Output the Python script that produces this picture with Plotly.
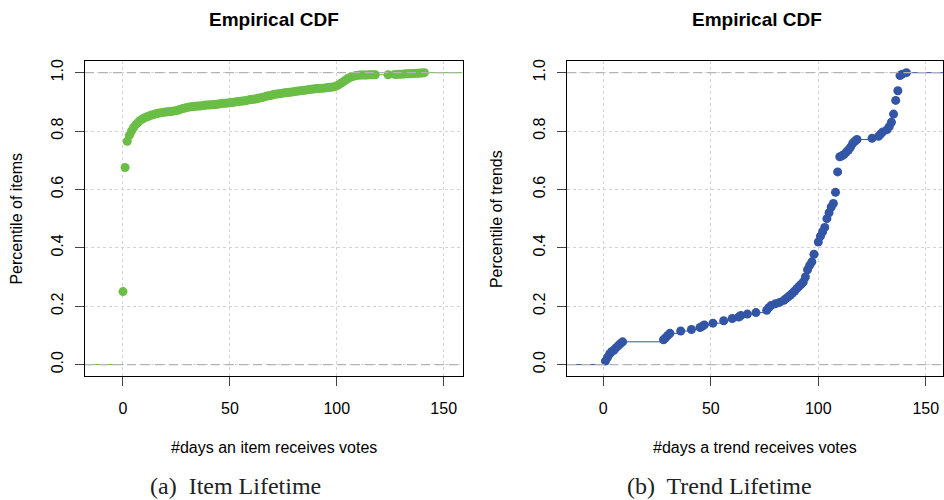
import plotly.graph_objects as go

# ---------------- data ----------------
item_days = list(range(0, 119)) + [124] + list(range(127, 142))
item_cdf = [
    0.250, 0.675, 0.765, 0.785, 0.800, 0.812, 0.822, 0.829, 0.836, 0.841,
    0.845, 0.848, 0.851, 0.854, 0.856, 0.858, 0.860, 0.862, 0.863, 0.864,
    0.865, 0.866, 0.867, 0.868, 0.869, 0.870, 0.872, 0.875, 0.877, 0.879,
    0.881, 0.882, 0.883, 0.884, 0.885, 0.886, 0.886, 0.887, 0.888, 0.889,
    0.889, 0.890, 0.890, 0.891, 0.892, 0.893, 0.894, 0.895, 0.895, 0.896,
    0.897, 0.898, 0.899, 0.900, 0.901, 0.902, 0.903, 0.904, 0.905, 0.907,
    0.908, 0.909, 0.910, 0.912, 0.913, 0.915, 0.917, 0.919, 0.921, 0.922,
    0.924, 0.926, 0.927, 0.928, 0.929, 0.930, 0.931, 0.932, 0.933, 0.934,
    0.935, 0.936, 0.937, 0.938, 0.939, 0.940, 0.941, 0.942, 0.943, 0.944,
    0.945, 0.946, 0.946, 0.947, 0.947, 0.948, 0.949, 0.950, 0.951, 0.952,
    0.955, 0.959, 0.964, 0.969, 0.974, 0.979, 0.983, 0.986, 0.988, 0.990,
    0.991, 0.992, 0.992, 0.992, 0.992, 0.993, 0.993, 0.993, 0.993,
    0.993,
    0.994, 0.994, 0.995, 0.995, 0.995, 0.996, 0.996, 0.996, 0.997, 0.997,
    0.998, 0.998, 0.999, 0.999, 1.000,
]

trend_days = [
    1, 2, 3, 4, 5, 6, 7, 8, 9, 28, 29, 30, 31, 36, 41, 45, 46, 47, 51, 56,
    60, 63, 64, 67, 71, 76, 77, 78, 80, 82, 84, 85, 86, 87, 88, 89, 90, 91,
    92, 93, 94, 95, 96, 97, 98, 100, 101, 102, 103, 104, 105, 106, 107, 108,
    109, 110, 111, 112, 113, 114, 115, 116, 117, 118, 125, 128, 129, 130,
    132, 133, 134, 135, 136, 137, 138, 139, 141,
]
trend_cdf = [
    0.012, 0.025, 0.037, 0.045, 0.050, 0.058, 0.065, 0.072, 0.078, 0.085,
    0.092, 0.100, 0.107, 0.115, 0.120, 0.127, 0.131, 0.136, 0.142, 0.150,
    0.158, 0.163, 0.168, 0.173, 0.178, 0.186, 0.195, 0.202, 0.208, 0.213,
    0.220, 0.226, 0.232, 0.238, 0.245, 0.252, 0.260, 0.268, 0.275, 0.283,
    0.300, 0.325, 0.340, 0.352, 0.378, 0.420, 0.440, 0.455, 0.470, 0.500,
    0.520, 0.540, 0.552, 0.590, 0.660, 0.712, 0.715, 0.720, 0.728, 0.735,
    0.745, 0.758, 0.765, 0.771, 0.775, 0.782, 0.790, 0.797, 0.805, 0.815,
    0.830, 0.858, 0.905, 0.938, 0.990, 0.995, 1.000,
]

x_ticks = [0, 50, 100, 150]
y_ticks = [0.0, 0.2, 0.4, 0.6, 0.8, 1.0]
titles = ["Empirical CDF", "Empirical CDF"]
x_titles = ["#days an item receives votes", "#days a trend receives votes"]
y_titles = ["Percentile of items", "Percentile of trends"]
captions = ["(a)\u00a0 Item Lifetime", "(b)\u00a0 Trend Lifetime"]

GREEN = "#6ABE46"
BLUE = "#3355A5"
FONT = "Liberation Sans, Arial, sans-serif"

W, H = 944, 500
XR1 = [-17.8, 158.8]
XR2 = [-16.7, 158.0]
YR = [-0.0408, 1.0408]
X1D = [85 / W, 463 / W]
X2D = [568 / W, 1.0]
YD = [1 - 376 / H, 1 - 59 / H]


def step_segments(xs, ys, xmin, xmax):
    sx, sy = [xmin, xs[0], None], [0, 0, None]
    for i in range(len(xs) - 1):
        sx += [xs[i], xs[i + 1], None]
        sy += [ys[i], ys[i], None]
    sx += [xs[-1], xmax, None]
    sy += [ys[-1], ys[-1], None]
    return sx, sy


fig = go.Figure()
for xs, ys, col, xr, ax in [
    (item_days, item_cdf, GREEN, XR1, ("x", "y")),
    (trend_days, trend_cdf, BLUE, XR2, ("x2", "y2")),
]:
    sx, sy = step_segments(xs, ys, xr[0], xr[1])
    fig.add_trace(go.Scatter(x=sx, y=sy, mode="lines", line=dict(color=col, width=1),
                             xaxis=ax[0], yaxis=ax[1], showlegend=False, hoverinfo="skip"))
    fig.add_trace(go.Scatter(x=xs, y=ys, mode="markers",
                             marker=dict(color=col, size=9, line=dict(width=0)),
                             xaxis=ax[0], yaxis=ax[1], showlegend=False))
    for yv in (0, 1):
        fig.add_shape(type="line", xref=ax[0], yref=ax[1], x0=xr[0], x1=xr[1], y0=yv, y1=yv,
                      line=dict(color="#b3b3b3", width=1.2, dash="9px,5px"), layer="above")

axis_common = dict(showline=True, linecolor="black", linewidth=1, mirror=True,
                   ticks="outside", ticklen=9, tickwidth=1, tickcolor="#444",
                   showgrid=True, gridcolor="#d3d3d3", griddash="dot", gridwidth=1,
                   zeroline=False, tickfont=dict(family=FONT, size=16, color="black"),
                   fixedrange=True)

fig.update_layout(
    width=W, height=H, autosize=False,
    margin=dict(l=0, r=0, t=0, b=0),
    paper_bgcolor="white", plot_bgcolor="white",
    xaxis=dict(domain=X1D, range=XR1, tickvals=x_ticks, anchor="y",
               ticklabelstandoff=8, **axis_common),
    yaxis=dict(domain=YD, range=YR, tickvals=y_ticks, tickformat=".1f", anchor="x",
               tickangle=-90, ticklabelstandoff=6, **axis_common),
    xaxis2=dict(domain=X2D, range=XR2, tickvals=x_ticks, anchor="y2",
                ticklabelstandoff=8, **axis_common),
    yaxis2=dict(domain=YD, range=YR, tickvals=y_ticks, tickformat=".1f", anchor="x2",
                tickangle=-90, ticklabelstandoff=6, **axis_common),
)

centers = [(85 + 463) / 2, (568 + 948) / 2]
xtitle_x = [274, 756]
ytitle_x = [17, 497]
caption_x = [236, 720]
ann = dict(xref="paper", yref="paper", showarrow=False, xanchor="center", yanchor="middle")
for i in range(2):
    fig.add_annotation(x=centers[i] / W, y=1 - 18 / H, text="<b>" + titles[i] + "</b>",
                       font=dict(family=FONT, size=19, color="black"), **ann)
    fig.add_annotation(x=xtitle_x[i] / W, y=1 - 447 / H, text=x_titles[i],
                       font=dict(family=FONT, size=16, color="black"), **ann)
    fig.add_annotation(x=ytitle_x[i] / W, y=1 - 217.5 / H, text=y_titles[i], textangle=-90,
                       font=dict(family=FONT, size=16, color="black"), **ann)
    fig.add_annotation(x=caption_x[i] / W, y=1 - 486 / H, text=captions[i],
                       font=dict(family="Liberation Serif, DejaVu Serif, serif", size=24,
                                 color="#222"), **ann)

fig.write_html("out.html", config={"displayModeBar": False},
               post_script="document.body.style.margin='0';")
